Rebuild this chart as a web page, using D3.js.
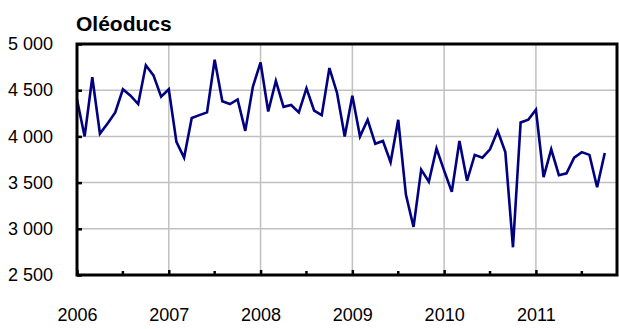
<html>
<head>
<script src="https://d3js.org/d3.v7.min.js"></script>
<style>
  body { margin: 0; background: #fff; }
  text { font-family: "Liberation Sans Narrow", "Arial Narrow", "Liberation Sans", sans-serif; }
</style>
</head>
<body>
<svg width="619" height="329"></svg>
<script>
// monthly values, Jan 2006 .. Oct 2011
var values = [4400, 4000, 4640, 4030, 4140, 4260, 4510, 4440, 4350, 4770, 4660, 4430,
              4510, 3940, 3770, 4200, 4230, 4260, 4830, 4380, 4350, 4400, 4060, 4540,
              4800, 4270, 4600, 4320, 4340, 4260, 4520, 4280, 4230, 4740, 4470, 4000,
              4440, 4000, 4180, 3920, 3950, 3720, 4180, 3370, 3020, 3640, 3510, 3870,
              3630, 3400, 3950, 3520, 3800, 3770, 3860, 4060, 3830, 2800, 4150, 4180,
              4290, 3560, 3860, 3580, 3600, 3770, 3830, 3800, 3450, 3820];
var years = ["2006", "2007", "2008", "2009", "2010", "2011"];
var yTicks = [2500, 3000, 3500, 4000, 4500, 5000];
var title = "Oléoducs";

var margin = {left: 77, top: 44, right: 2, bottom: 54};
var w = 619 - margin.left - margin.right, h = 329 - margin.top - margin.bottom;

var x = d3.scaleLinear().domain([0, 70.6]).range([0, w]);
var y = d3.scaleLinear().domain([2500, 5000]).range([h, 0]);
var fmt = function(d) { return d3.format(",")(d).replace(",", " "); };

var svg = d3.select("svg");
var g = svg.append("g").attr("transform", "translate(" + margin.left + "," + margin.top + ")");

// grid
g.selectAll(".hg").data(yTicks).enter().append("line")
  .attr("x1", 0).attr("x2", w).attr("y1", y).attr("y2", y)
  .attr("stroke", "#c0c0c0").attr("stroke-width", 1.5);
g.selectAll(".vg").data(years).enter().append("line")
  .attr("x1", function(d, i) { return x(i * 12); }).attr("x2", function(d, i) { return x(i * 12); })
  .attr("y1", 0).attr("y2", h)
  .attr("stroke", "#c0c0c0").attr("stroke-width", 1.5);

// line
var line = d3.line().x(function(d, i) { return x(i); }).y(function(d) { return y(d); });
g.append("path").datum(values).attr("d", line)
  .attr("fill", "none").attr("stroke", "#000080").attr("stroke-width", 2.6)
  .attr("stroke-linejoin", "miter");

// axes
var ya = g.append("g").call(d3.axisLeft(y).tickValues(yTicks).tickFormat(fmt).tickSize(-5).tickPadding(24));
ya.selectAll("text").attr("font-size", 18).attr("fill", "#000");
ya.selectAll(".tick line").attr("stroke", "#000").attr("stroke-width", 2.5);
ya.select(".domain").remove();

var xa = g.append("g").attr("transform", "translate(0," + h + ")")
  .call(d3.axisBottom(x).tickValues(d3.range(0, 72, 12))
    .tickFormat(function(d) { return years[d / 12]; }).tickSize(-5).tickPadding(33));
xa.selectAll("text").attr("font-size", 18).attr("fill", "#000");
xa.selectAll(".tick line").attr("stroke", "#000").attr("stroke-width", 2.5);
xa.select(".domain").remove();

g.selectAll(".minor").data(d3.range(6, 72, 12)).enter().append("line")
  .attr("x1", x).attr("x2", x).attr("y1", h).attr("y2", h - 4)
  .attr("stroke", "#000").attr("stroke-width", 2.5);

// frame
g.append("rect").attr("width", w).attr("height", h)
  .attr("fill", "none").attr("stroke", "#000").attr("stroke-width", 3);

svg.append("text").attr("x", 76).attr("y", 31).text(title)
  .attr("font-size", 21).attr("font-weight", "bold").attr("fill", "#000");
</script>
</body>
</html>
